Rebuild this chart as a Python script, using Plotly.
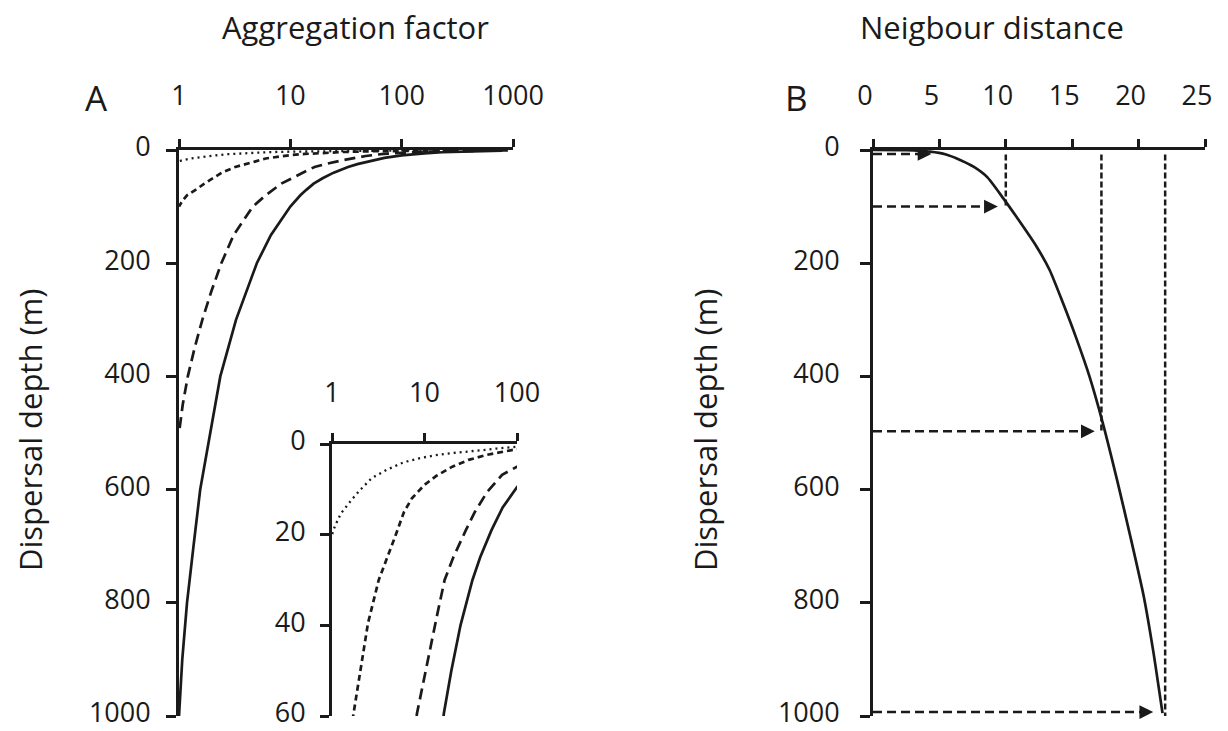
import plotly.graph_objects as go

# ---------------- Panel A: aggregation factor vs dispersal depth ----------------
# Four scenarios (maximum dispersal depth 20, 100, 500 and 1000 m)
depth_20 = [0.3, 0.6, 1.0, 1.3, 1.6, 2.0, 2.5, 3.1, 4.0, 5.7, 7.5, 10.2, 12.5, 15.3, 18.0, 20.0]
agg_20 = [150, 90, 60, 45, 30, 20, 13, 9, 6, 3.9, 2.7, 2.0, 1.6, 1.25, 1.08, 1.0]

depth_100 = [0.3, 0.7, 1.3, 2.4, 3.5, 5, 7, 9, 12, 15, 20.5, 30, 39.5, 50, 59.4, 70, 80, 90, 100]
agg_100 = [400, 180, 90, 47, 30, 20, 13.5, 10, 7.3, 6, 4.8, 3.2, 2.45, 2.0, 1.69, 1.42, 1.18, 1.07, 1.0]

depth_500 = [0.5, 1.5, 3, 5, 6.8, 10.6, 15, 19, 25, 30, 38, 50, 59.4, 80, 100, 150, 200,
             250, 300, 350, 400, 450, 500]
agg_500 = [900, 330, 160, 100, 69, 47.5, 35, 28, 20.5, 16.5, 13.6, 10.2, 8.3, 6.0, 4.6, 3.1, 2.4,
           1.95, 1.62, 1.38, 1.2, 1.08, 1.0]

depth_1000 = [1, 2, 4, 6, 9.5, 14, 19, 25, 30, 40, 50, 59.4, 70, 80, 100, 150, 200, 300, 400,
              500, 600, 700, 800, 900, 950, 1000]
agg_1000 = [800, 450, 230, 160, 100, 70, 53, 40, 33, 24.5, 19.5, 16.2, 14, 12.3, 10, 6.7, 5.0,
            3.25, 2.35, 1.9, 1.55, 1.35, 1.18, 1.07, 1.03, 1.0]

a_xticks = [1, 10, 100, 1000]
a_yticks = [0, 200, 400, 600, 800, 1000]
inset_xticks = [1, 10, 100]
inset_yticks = [0, 20, 40, 60]

# ---------------- Panel B: neighbour distance vs dispersal depth ----------------
nb_distance = [0, 2.5, 4.3, 5.5, 6.6, 7.6, 8.6, 9.8, 10.8, 12.3, 13.3, 14.3, 15.3, 16.3,
               17.3, 18.4, 19.4, 20.4, 21.1, 21.8]
nb_depth = [0, 0.4, 3, 8, 18, 30, 48, 85, 118, 170, 212, 270, 332, 400,
            482, 585, 685, 790, 885, 995]

arrow_depths = [7, 100, 497, 993]
arrow_tips = [4.4, 9.4, 16.7, 21.1]
guide_x = [10, 17.2, 22]
guide_top = 8
guide_bottom = [100, 500, 1000]

b_xticks = [0, 5, 10, 15, 20, 25]
b_yticks = [0, 200, 400, 600, 800, 1000]

FONT = "Open Sans"
INK = "#1a1a1a"
W, H = 1228, 731

fig = go.Figure()

styles = [
    (depth_20, agg_20, dict(width=2.3, dash="2px,4px")),
    (depth_100, agg_100, dict(width=2.7, dash="6px,4px")),
    (depth_500, agg_500, dict(width=2.7, dash="11px,6px")),
    (depth_1000, agg_1000, dict(width=2.7, dash="solid")),
]

for d, a, ln in styles:
    fig.add_trace(go.Scatter(x=a, y=d, mode="lines", xaxis="x", yaxis="y",
                             line=dict(color=INK, **ln), showlegend=False, hoverinfo="skip"))
for d, a, ln in styles:
    fig.add_trace(go.Scatter(x=a, y=d, mode="lines", xaxis="x2", yaxis="y2",
                             line=dict(color=INK, **ln), showlegend=False, hoverinfo="skip"))

# Panel B curve
fig.add_trace(go.Scatter(x=nb_distance, y=nb_depth, mode="lines", xaxis="x3", yaxis="y3",
                         line=dict(color=INK, width=2.7, shape="spline", smoothing=0.6),
                         showlegend=False, hoverinfo="skip"))

# Vertical guides
for gx, gb in zip(guide_x, guide_bottom):
    fig.add_trace(go.Scatter(x=[gx, gx], y=[guide_top, gb], mode="lines", xaxis="x3", yaxis="y3",
                             line=dict(color=INK, width=2.5, dash="6px,3px"),
                             showlegend=False, hoverinfo="skip"))

# Dashed arrows from the depth axis to the curve
annotations = []
for ad, at in zip(arrow_depths, arrow_tips):
    fig.add_trace(go.Scatter(x=[0, at - 0.6], y=[ad, ad], mode="lines", xaxis="x3", yaxis="y3",
                             line=dict(color=INK, width=2.5, dash="9px,5px"),
                             showlegend=False, hoverinfo="skip"))
    annotations.append(dict(x=at, y=ad, xref="x3", yref="y3", ax=at - 0.9, ay=ad,
                            axref="x3", ayref="y3", text="", showarrow=True,
                            arrowhead=2, arrowsize=1.1, arrowwidth=2.5, arrowcolor=INK))


def px_x(v):
    return v / W


def px_y(v):
    return 1 - v / H


axis_common = dict(showgrid=False, zeroline=False, showline=True, linecolor=INK, linewidth=2.8,
                   ticks="outside", tickwidth=2.8, tickcolor=INK, mirror=False,
                   automargin=False, ticklabeloverflow="allow",
                   tickfont=dict(family=FONT, size=27, color=INK))

fig.update_layout(
    template="none",
    width=W, height=H,
    margin=dict(l=0, r=0, t=0, b=0, pad=0, autoexpand=False),
    paper_bgcolor="white", plot_bgcolor="rgba(0,0,0,0)",
    showlegend=False,
    xaxis=dict(axis_common, type="log", range=[0, 3], side="top", anchor="y",
               domain=[px_x(179), px_x(513)], tickvals=a_xticks,
               ticktext=[str(v) for v in a_xticks], ticklen=8, ticklabelstandoff=23),
    yaxis=dict(axis_common, range=[1000, 0], anchor="x",
               domain=[px_y(716), px_y(150)], tickvals=a_yticks, ticklen=10,
               ticklabelstandoff=10, ticklabelshift=3),
    xaxis2=dict(axis_common, type="log", range=[0, 2], side="top", anchor="y2",
                domain=[px_x(332), px_x(517)], tickvals=inset_xticks,
                ticktext=[str(v) for v in inset_xticks], ticklen=8, ticklabelstandoff=20),
    yaxis2=dict(axis_common, range=[60, 0], anchor="x2",
                domain=[px_y(716), px_y(444)], tickvals=inset_yticks, ticklen=9,
                ticklabelstandoff=9, ticklabelshift=3),
    xaxis3=dict(axis_common, range=[0, 25], side="top", anchor="y3",
                domain=[px_x(873), px_x(1205)], tickvals=b_xticks, ticklen=8,
                ticklabelstandoff=23, ticklabelshift=-8),
    yaxis3=dict(axis_common, range=[1000, 0], anchor="x3",
                domain=[px_y(716), px_y(150)], tickvals=b_yticks, ticklen=10,
                ticklabelstandoff=15, ticklabelshift=3),
)

text_font = dict(family=FONT, size=31, color=INK)
annotations += [
    dict(text="Aggregation factor", x=px_x(355), y=px_y(27), xref="paper", yref="paper",
         showarrow=False, font=text_font, xanchor="center", yanchor="middle"),
    dict(text="Neigbour distance", x=px_x(992), y=px_y(27), xref="paper", yref="paper",
         showarrow=False, font=text_font, xanchor="center", yanchor="middle"),
    dict(text="Dispersal depth (m)", x=px_x(30), y=px_y(430), xref="paper", yref="paper",
         showarrow=False, font=text_font, textangle=-90, xanchor="center", yanchor="middle"),
    dict(text="Dispersal depth (m)", x=px_x(705), y=px_y(430), xref="paper", yref="paper",
         showarrow=False, font=text_font, textangle=-90, xanchor="center", yanchor="middle"),
    dict(text="A", x=px_x(97), y=px_y(97), xref="paper", yref="paper", showarrow=False,
         font=dict(family=FONT, size=35, color=INK), xanchor="center", yanchor="middle"),
    dict(text="B", x=px_x(796), y=px_y(97), xref="paper", yref="paper", showarrow=False,
         font=dict(family=FONT, size=35, color=INK), xanchor="center", yanchor="middle"),
]
fig.update_layout(annotations=annotations)

fig.write_html("out.html")
